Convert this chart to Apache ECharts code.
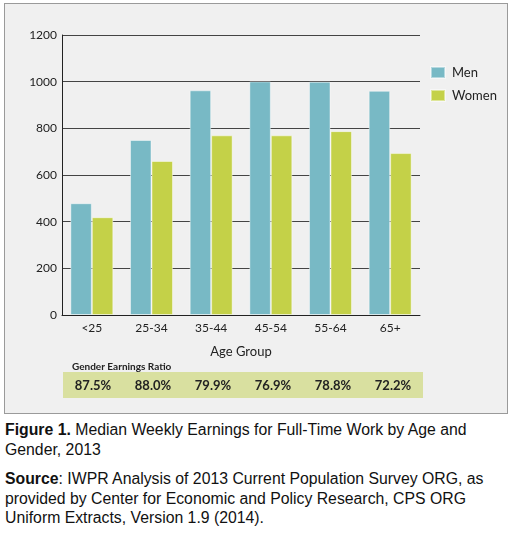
<!doctype html>
<html>
<head>
<meta charset="utf-8">
<title>Median Weekly Earnings</title>
<script src="https://cdn.jsdelivr.net/npm/echarts@6/dist/echarts.min.js"></script>
<style>
  body { margin: 0; background: #fff; }
  #box { position: absolute; left: 4px; top: 3px; width: 502px; height: 409px;
         border: 1px solid #9a9a9a; background: #f0f0f0; }
  #chart { position: absolute; left: 0; top: 0; width: 511px; height: 414px; }
  .cap { position: absolute; left: 5px; width: 500px; font-family: "Liberation Sans", Arial, sans-serif;
         font-size: 15.8px; line-height: 19.5px; color: #111; }
</style>
</head>
<body>
<div id="box"></div>
<div id="chart"></div>
<div class="cap" style="top:420px"><b>Figure 1.</b> Median Weekly Earnings for Full-Time Work by Age and Gender, 2013</div>
<div class="cap" style="top:469px"><b>Source</b>: IWPR Analysis of 2013 Current Population Survey ORG, as provided by Center for Economic and Policy Research, CPS ORG Uniform Extracts, Version 1.9 (2014).</div>
<script type="text/javascript">
    // data
    var ageGroups = ['<25', '25-34', '35-44', '45-54', '55-64', '65+'];
    var menEarnings = [479, 750, 963, 1001, 1000, 961];
    var womenEarnings = [419, 660, 770, 770, 788, 694];
    var ratioLabels = ['87.5%', '88.0%', '79.9%', '76.9%', '78.8%', '72.2%'];
    var yTicks = { min: 0, max: 1200, interval: 200 };

    var font = 'Lato, "Open Sans", sans-serif';

    var option = {
        animation: false,
        backgroundColor: 'transparent',
        textStyle: { fontFamily: font },
        title: {
            text: 'Gender Earnings Ratio',
            left: 67, top: 357,
            textStyle: { fontSize: 10, fontWeight: 'bold', color: '#222', fontFamily: font }
        },
        legend: {
            orient: 'vertical',
            left: 430, top: 66, padding: 0,
            itemWidth: 14, itemHeight: 11, itemGap: 10,
            icon: 'rect',
            textStyle: { fontSize: 13, color: '#222', padding: [0, 0, 0, 2] },
            data: ['Men', 'Women']
        },
        grid: [
            { left: 62, top: 35, width: 358, height: 280 },
            // band with the ratios
            { left: 63, top: 372, width: 360, height: 26, show: true, backgroundColor: '#d9e0a0', borderWidth: 0 }
        ],
        xAxis: [
            {
                type: 'category', data: ageGroups,
                name: 'Age Group', nameLocation: 'middle', nameGap: 30,
                nameTextStyle: { fontSize: 13, color: '#222' },
                axisLine: { lineStyle: { color: '#222', width: 1 } },
                axisTick: { show: false },
                axisLabel: { fontSize: 12, color: '#222', margin: 7 }
            },
            {
                gridIndex: 1, type: 'category', data: ageGroups,
                axisLine: { show: false }, axisTick: { show: false },
                axisLabel: {
                    inside: true, margin: 6, fontSize: 13, fontWeight: 'bold', color: '#222',
                    formatter: function (v, i) { return ratioLabels[i]; }
                }
            }
        ],
        yAxis: [
            {
                type: 'value', min: yTicks.min, max: yTicks.max, interval: yTicks.interval,
                axisLine: { show: true, lineStyle: { color: '#222', width: 1 } },
                axisTick: { show: false },
                axisLabel: { fontSize: 12, color: '#222', margin: 5, formatter: function (v) { return String(v); } },
                splitLine: { lineStyle: { color: '#444', width: 1 } }
            },
            { gridIndex: 1, type: 'value', show: false }
        ],
        series: [
            {
                name: 'Men', type: 'bar', data: menEarnings,
                barGap: '0%', barCategoryGap: '28%',
                itemStyle: { color: '#78b9c5', borderColor: 'rgba(255,255,255,0.45)', borderWidth: 1 }
            },
            {
                name: 'Women', type: 'bar', data: womenEarnings,
                itemStyle: { color: '#c4d148', borderColor: 'rgba(255,255,255,0.45)', borderWidth: 1 }
            }
        ]
    };

    var myChart = echarts.init(document.getElementById('chart'), null, { renderer: 'canvas' });
    myChart.setOption(option);
</script>
</body>
</html>
